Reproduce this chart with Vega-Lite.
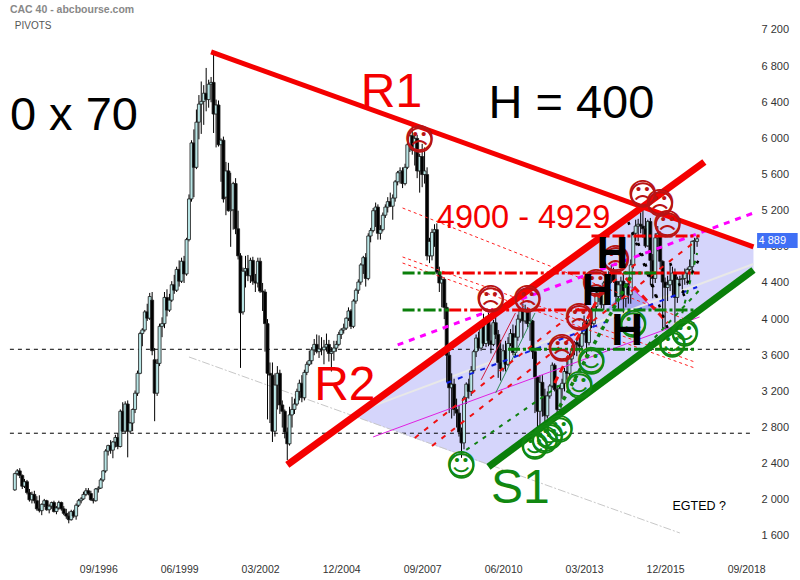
{"$schema":"https://vega.github.io/schema/vega-lite/v6.json","width":755,"height":558,"padding":{"left":0,"top":0,"right":45,"bottom":22},"autosize":"none","background":"white","config":{"view":{"stroke":null}},
"datasets":{
"channel":[{"t":"2005-05","v":2928,"v2":2928},{"t":"2010-01","v":4024,"v2":2375},{"t":"2015-01","v":5241,"v2":3598},{"t":"2018-12","v":4799,"v2":4544}],
"tri":[{"t":"2013-12","v":4101,"v2":4101},{"t":"2014-09","v":4378,"v2":4101},{"t":"2015-08","v":4101,"v2":4101}],
"lines":[
{"g":"level","s":"L1","t":"1993-09","v":3666},{"g":"level","s":"L1","t":"2018-12","v":3666},
{"g":"level","s":"L2","t":"1993-09","v":2737},{"g":"level","s":"L2","t":"2018-12","v":2737},
{"g":"grayline","s":"G1","t":"1999-10","v":3581},{"g":"grayline","s":"G1","t":"2016-06","v":1633},
{"g":"pale","s":"P1","t":"2005-12","v":3028},{"g":"pale","s":"P1","t":"2018-12","v":4610},
{"g":"thinred","s":"T1","t":"2007-01","v":5230},{"g":"thinred","s":"T1","t":"2016-12","v":3957},
{"g":"thinred","s":"T2","t":"2007-01","v":4688},{"g":"thinred","s":"T2","t":"2016-12","v":3526},
{"g":"thinred","s":"T3","t":"2007-01","v":4621},{"g":"thinred","s":"T3","t":"2016-12","v":3459},
{"g":"thinmag","s":"M1","t":"2006-01","v":2696},{"g":"thinmag","s":"M1","t":"2017-02","v":4024},
{"g":"thinmag","s":"M2","t":"2014-09","v":4378},{"g":"thinmag","s":"M2","t":"2015-08","v":4101},
{"g":"crimson","s":"C1","t":"2009-09","v":3327},{"g":"crimson","s":"C1","t":"2010-11","v":4068},
{"g":"thingreen","s":"TG1","t":"2010-03","v":3183},{"g":"thingreen","s":"TG1","t":"2011-07","v":4068},
{"g":"dashred","s":"A","t":"2007-06","v":2685},{"g":"dashred","s":"A","t":"2015-01","v":4632},
{"g":"dashred","s":"B","t":"2008-01","v":2596},{"g":"dashred","s":"B","t":"2017-01","v":4876},
{"g":"boldred","s":"BR1","t":"2012-03","v":3293},{"g":"boldred","s":"BR1","t":"2014-04","v":4621},
{"g":"boldred","s":"BR2","t":"2014-08","v":4455},{"g":"boldred","s":"BR2","t":"2016-01","v":3957},
{"g":"blue","s":"B1","t":"2008-07","v":3293},{"g":"blue","s":"B1","t":"2017-01","v":4356},
{"g":"dashgreen","s":"DG1","t":"2009-03","v":2552},{"g":"dashgreen","s":"DG1","t":"2012-07","v":3304},
{"g":"dashgreen","s":"DG2","t":"2016-06","v":3957},{"g":"dashgreen","s":"DG2","t":"2017-01","v":4732},
{"g":"dashgreen","s":"DG3","t":"2015-05","v":3714},{"g":"dashgreen","s":"DG3","t":"2017-02","v":4323},
{"g":"boldgreen","s":"BG1","t":"2012-05","v":3028},{"g":"boldgreen","s":"BG1","t":"2014-10","v":4466},
{"g":"dots","s":"D1","t":"2014-09","v":5075},{"g":"dots","s":"D1","t":"2016-01","v":3902},
{"g":"dots","s":"D2","t":"2015-01","v":4843},{"g":"dots","s":"D2","t":"2015-09","v":4212},
{"g":"dots","s":"D3","t":"2016-02","v":4621},{"g":"dots","s":"D3","t":"2016-09","v":4179},
{"g":"dots","s":"D4","t":"2016-07","v":4289},{"g":"dots","s":"D4","t":"2017-02","v":4677},
{"g":"magdots","s":"MD","t":"2006-11","v":3714},{"g":"magdots","s":"MD","t":"2018-12","v":5175},
{"g":"pivotred","s":"PR1","t":"2008-05","v":4511},{"g":"pivotred","s":"PR1","t":"2017-02","v":4511},
{"g":"pivotred","s":"PR2","t":"2008-08","v":4101},{"g":"pivotred","s":"PR2","t":"2013-06","v":4101},
{"g":"pivotred","s":"PR3","t":"2013-06","v":4920},{"g":"pivotred","s":"PR3","t":"2017-02","v":4920},
{"g":"pivotgreen","s":"PG1","t":"2007-01","v":4511},{"g":"pivotgreen","s":"PG1","t":"2008-05","v":4511},
{"g":"pivotgreen","s":"PG2","t":"2014-07","v":4511},{"g":"pivotgreen","s":"PG2","t":"2015-09","v":4511},
{"g":"pivotgreen","s":"PG3","t":"2007-01","v":4101},{"g":"pivotgreen","s":"PG3","t":"2008-08","v":4101},
{"g":"pivotgreen","s":"PG4","t":"2013-06","v":4101},{"g":"pivotgreen","s":"PG4","t":"2017-01","v":4101},
{"g":"pivotgreen","s":"PG5","t":"2010-08","v":3666},{"g":"pivotgreen","s":"PG5","t":"2017-01","v":3666},
{"g":"r1","s":"R1","t":"2000-07","v":6957},{"g":"r1","s":"R1","t":"2018-12","v":4799},
{"g":"r2","s":"R2","t":"2003-02","v":2386},{"g":"r2","s":"R2","t":"2017-04","v":5739},
{"g":"s1","s":"S1","t":"2009-12","v":2364},{"g":"s1","s":"S1","t":"2018-12","v":4544}],
"faces":[
{"k":"sad","g":"☹","t":"2007-08","v":5983},{"k":"sad","g":"☹","t":"2015-03","v":5374},{"k":"sad","g":"☹","t":"2015-10","v":5274},{"k":"sad","g":"☹","t":"2016-01","v":5042},{"k":"sad","g":"☹","t":"2014-04","v":4655},{"k":"sad","g":"☹","t":"2013-08","v":4389},{"k":"sad","g":"☹","t":"2013-01","v":4013},{"k":"sad","g":"☹","t":"2012-06","v":3670},{"k":"sad","g":"☹","t":"2010-01","v":4212},{"k":"sad","g":"☹","t":"2011-04","v":4212},
{"k":"happy","g":"☺","t":"2009-01","v":2375},{"k":"happy","g":"☺","t":"2011-07","v":2585},{"k":"happy","g":"☺","t":"2011-11","v":2651},{"k":"happy","g":"☺","t":"2012-01","v":2696},{"k":"happy","g":"☺","t":"2012-05","v":2773},{"k":"happy","g":"☺","t":"2013-01","v":3260},{"k":"happy","g":"☺","t":"2013-06","v":3526},{"k":"happy","g":"☺","t":"2014-11","v":3935},{"k":"happy","g":"☺","t":"2016-03","v":3714},{"k":"happy","g":"☺","t":"2016-08","v":3836}],
"notes":[
{"k":"black","label":"0 x 70","t":"1993-09","v":6093},{"k":"black","label":"H = 400","t":"2009-12","v":6226},
{"k":"red","label":"R1","t":"2005-08","v":6348},{"k":"red","label":"R2","t":"2004-01","v":3105},
{"k":"green","label":"S1","t":"2010-01","v":1965},
{"k":"boldh","label":"H","t":"2013-08","v":4566},{"k":"boldh","label":"H","t":"2013-02","v":4157},{"k":"boldh","label":"H","t":"2014-02","v":3714},
{"k":"mid","label":"4900 - 4929","t":"2008-03","v":5009},
{"k":"small","label":"EGTED ?","t":"2016-03","v":1888},
{"k":"head","label":"CAC 40 - abcbourse.com","t":"1993-09","v":7388},
{"k":"sub","label":"PIVOTS","t":"1993-11","v":7211}],
"last":[{"label":"4 889","t":"2019-02","t2":"2020-06","x0":"2019-01-15","v":4832,"top":4953,"bottom":4787}],
"candles":[
{"t":"1993-11","o":2110,"h":2300,"l":2100,"c":2290},{"t":"1993-12","o":2290,"h":2340,"l":2270,"c":2320},{"t":"1994-01","o":2320,"h":2350,"l":2240,"c":2270},{"t":"1994-02","o":2270,"h":2280,"l":2120,"c":2150},{"t":"1994-03","o":2150,"h":2230,"l":2130,"c":2200},{"t":"1994-04","o":2200,"h":2220,"l":2060,"c":2080},{"t":"1994-05","o":2080,"h":2120,"l":1980,"c":2000},{"t":"1994-06","o":2000,"h":2090,"l":1960,"c":2060},{"t":"1994-07","o":2060,"h":2100,"l":1960,"c":1990},{"t":"1994-08","o":1990,"h":2040,"l":1880,"c":1900},{"t":"1994-09","o":1900,"h":2050,"l":1860,"c":1880},{"t":"1994-10","o":1880,"h":1960,"l":1830,"c":1950},{"t":"1994-11","o":1950,"h":2010,"l":1920,"c":1990},{"t":"1994-12","o":1990,"h":2000,"l":1880,"c":1890},
{"t":"1995-01","o":1890,"h":1950,"l":1850,"c":1930},{"t":"1995-02","o":1930,"h":1980,"l":1900,"c":1970},{"t":"1995-03","o":1970,"h":1990,"l":1860,"c":1870},{"t":"1995-04","o":1870,"h":1930,"l":1840,"c":1910},{"t":"1995-05","o":1910,"h":1990,"l":1890,"c":1970},{"t":"1995-06","o":1970,"h":1980,"l":1880,"c":1900},{"t":"1995-07","o":1900,"h":1930,"l":1830,"c":1850},{"t":"1995-08","o":1850,"h":1900,"l":1790,"c":1820},{"t":"1995-09","o":1820,"h":1870,"l":1740,"c":1780},{"t":"1995-10","o":1780,"h":1890,"l":1770,"c":1870},{"t":"1995-11","o":1870,"h":1890,"l":1800,"c":1820},{"t":"1995-12","o":1820,"h":1960,"l":1780,"c":1940},
{"t":"1996-01","o":1940,"h":2010,"l":1920,"c":1990},{"t":"1996-02","o":1990,"h":2030,"l":1960,"c":2010},{"t":"1996-03","o":2010,"h":2090,"l":2000,"c":2060},{"t":"1996-04","o":2060,"h":2130,"l":2040,"c":2100},{"t":"1996-05","o":2100,"h":2130,"l":2050,"c":2070},{"t":"1996-06","o":2070,"h":2100,"l":1990,"c":2000},{"t":"1996-07","o":2000,"h":2020,"l":1960,"c":1990},{"t":"1996-08","o":1990,"h":2130,"l":1980,"c":2120},{"t":"1996-09","o":2120,"h":2150,"l":2080,"c":2130},{"t":"1996-10","o":2130,"h":2240,"l":2120,"c":2220},{"t":"1996-11","o":2220,"h":2330,"l":2200,"c":2320},{"t":"1996-12","o":2320,"h":2560,"l":2300,"c":2540},
{"t":"1997-01","o":2540,"h":2610,"l":2490,"c":2600},{"t":"1997-02","o":2600,"h":2660,"l":2510,"c":2550},{"t":"1997-03","o":2550,"h":2650,"l":2460,"c":2640},{"t":"1997-04","o":2640,"h":2720,"l":2580,"c":2690},{"t":"1997-05","o":2690,"h":2740,"l":2560,"c":2590},{"t":"1997-06","o":2590,"h":3000,"l":2580,"c":2980},{"t":"1997-07","o":2980,"h":3080,"l":2750,"c":2760},{"t":"1997-08","o":2760,"h":3090,"l":2740,"c":3060},{"t":"1997-09","o":3060,"h":3100,"l":2470,"c":2760},{"t":"1997-10","o":2760,"h":2860,"l":2740,"c":2850},{"t":"1997-11","o":2850,"h":3010,"l":2760,"c":3000},{"t":"1997-12","o":3000,"h":3210,"l":2960,"c":3180},
{"t":"1998-01","o":3180,"h":3430,"l":3150,"c":3400},{"t":"1998-02","o":3400,"h":3860,"l":3390,"c":3840},{"t":"1998-03","o":3840,"h":3900,"l":3700,"c":3880},{"t":"1998-04","o":3880,"h":4100,"l":3860,"c":4080},{"t":"1998-05","o":4080,"h":4170,"l":3980,"c":4010},{"t":"1998-06","o":4010,"h":4290,"l":3990,"c":4250},{"t":"1998-07","o":4210,"h":4300,"l":3600,"c":3650},{"t":"1998-08","o":3550,"h":3680,"l":2870,"c":3180},{"t":"1998-09","o":3180,"h":3560,"l":3150,"c":3510},{"t":"1998-10","o":3510,"h":3950,"l":3480,"c":3920},{"t":"1998-11","o":3920,"h":4020,"l":3800,"c":3950},{"t":"1998-12","o":3950,"h":4300,"l":3900,"c":4240},
{"t":"1999-01","o":4240,"h":4330,"l":4030,"c":4100},{"t":"1999-02","o":4100,"h":4280,"l":4080,"c":4210},{"t":"1999-03","o":4210,"h":4420,"l":4190,"c":4380},{"t":"1999-04","o":4380,"h":4490,"l":4280,"c":4320},{"t":"1999-05","o":4320,"h":4580,"l":4300,"c":4550},{"t":"1999-06","o":4550,"h":4650,"l":4360,"c":4420},{"t":"1999-07","o":4420,"h":4680,"l":4400,"c":4640},{"t":"1999-08","o":4640,"h":4700,"l":4400,"c":4500},{"t":"1999-09","o":4500,"h":4900,"l":4480,"c":4880},{"t":"1999-10","o":4880,"h":5380,"l":4860,"c":5330},{"t":"1999-11","o":5330,"h":5980,"l":5300,"c":5950},{"t":"1999-12","o":5950,"h":6100,"l":5350,"c":5680},
{"t":"2000-01","o":5680,"h":6320,"l":5660,"c":6180},{"t":"2000-02","o":6180,"h":6480,"l":5990,"c":6380},{"t":"2000-03","o":6380,"h":6630,"l":6050,"c":6410},{"t":"2000-04","o":6410,"h":6590,"l":6150,"c":6500},{"t":"2000-05","o":6500,"h":6780,"l":6300,"c":6430},{"t":"2000-06","o":6430,"h":6650,"l":6340,"c":6600},{"t":"2000-07","o":6600,"h":6680,"l":6400,"c":6620},{"t":"2000-08","o":6620,"h":6957,"l":6060,"c":6270},{"t":"2000-09","o":6270,"h":6430,"l":5900,"c":6370},{"t":"2000-10","o":6370,"h":6420,"l":5910,"c":5930},{"t":"2000-11","o":5930,"h":6000,"l":5520,"c":5980},{"t":"2000-12","o":5980,"h":6020,"l":5290,"c":5330},
{"t":"2001-01","o":5350,"h":5740,"l":5150,"c":5640},{"t":"2001-02","o":5640,"h":5730,"l":5190,"c":5200},{"t":"2001-03","o":5200,"h":5620,"l":4800,"c":5210},{"t":"2001-04","o":5210,"h":5520,"l":4990,"c":5500},{"t":"2001-05","o":5500,"h":5560,"l":4940,"c":5000},{"t":"2001-06","o":5000,"h":5200,"l":4660,"c":4700},{"t":"2001-07","o":4700,"h":4730,"l":3460,"c":4070},{"t":"2001-08","o":4080,"h":4570,"l":4050,"c":4530},{"t":"2001-09","o":4530,"h":4700,"l":4350,"c":4560},{"t":"2001-10","o":4560,"h":4710,"l":4420,"c":4480},{"t":"2001-11","o":4480,"h":4680,"l":4400,"c":4650},{"t":"2001-12","o":4650,"h":4690,"l":4380,"c":4420},
{"t":"2002-01","o":4420,"h":4500,"l":4300,"c":4400},{"t":"2002-02","o":4400,"h":4680,"l":4350,"c":4640},{"t":"2002-03","o":4640,"h":4680,"l":4290,"c":4310},{"t":"2002-04","o":4310,"h":4400,"l":4090,"c":4300},{"t":"2002-05","o":4300,"h":4330,"l":3640,"c":3950},{"t":"2002-06","o":3950,"h":4000,"l":2890,"c":3400},{"t":"2002-07","o":3400,"h":3520,"l":2850,"c":3380},{"t":"2002-08","o":3380,"h":3520,"l":2640,"c":2760},{"t":"2002-09","o":2760,"h":3400,"l":2700,"c":3270},{"t":"2002-10","o":3270,"h":3480,"l":3000,"c":3400},{"t":"2002-11","o":3400,"h":3440,"l":2950,"c":3050},{"t":"2002-12","o":3050,"h":3100,"l":2800,"c":2980},
{"t":"2003-01","o":2980,"h":3000,"l":2680,"c":2750},{"t":"2003-02","o":2750,"h":2800,"l":2440,"c":2620},{"t":"2003-03","o":2620,"h":3030,"l":2600,"c":2940},{"t":"2003-04","o":2940,"h":3140,"l":2800,"c":3000},{"t":"2003-05","o":3000,"h":3120,"l":2950,"c":3060},{"t":"2003-06","o":3060,"h":3230,"l":3040,"c":3200},{"t":"2003-07","o":3200,"h":3330,"l":3100,"c":3290},{"t":"2003-08","o":3290,"h":3380,"l":3080,"c":3130},{"t":"2003-09","o":3130,"h":3440,"l":3100,"c":3410},{"t":"2003-10","o":3410,"h":3530,"l":3380,"c":3500},{"t":"2003-11","o":3500,"h":3650,"l":3480,"c":3540},{"t":"2003-12","o":3540,"h":3690,"l":3500,"c":3660},
{"t":"2004-01","o":3660,"h":3780,"l":3600,"c":3720},{"t":"2004-02","o":3720,"h":3830,"l":3620,"c":3640},{"t":"2004-03","o":3640,"h":3820,"l":3570,"c":3670},{"t":"2004-04","o":3670,"h":3800,"l":3600,"c":3660},{"t":"2004-05","o":3660,"h":3770,"l":3500,"c":3690},{"t":"2004-06","o":3690,"h":3840,"l":3640,"c":3720},{"t":"2004-07","o":3720,"h":3770,"l":3530,"c":3620},{"t":"2004-08","o":3620,"h":3690,"l":3420,"c":3640},{"t":"2004-09","o":3640,"h":3760,"l":3540,"c":3680},{"t":"2004-10","o":3680,"h":3760,"l":3640,"c":3720},{"t":"2004-11","o":3720,"h":3860,"l":3700,"c":3830},{"t":"2004-12","o":3830,"h":3900,"l":3780,"c":3880},
{"t":"2005-01","o":3880,"h":3950,"l":3840,"c":3900},{"t":"2005-02","o":3900,"h":4020,"l":3880,"c":4010},{"t":"2005-03","o":4010,"h":4130,"l":3980,"c":4090},{"t":"2005-04","o":4090,"h":4110,"l":3890,"c":3920},{"t":"2005-05","o":3920,"h":4220,"l":3900,"c":4200},{"t":"2005-06","o":4200,"h":4340,"l":4170,"c":4320},{"t":"2005-07","o":4320,"h":4440,"l":4280,"c":4410},{"t":"2005-08","o":4410,"h":4620,"l":4380,"c":4600},{"t":"2005-09","o":4600,"h":4700,"l":4500,"c":4680},{"t":"2005-10","o":4680,"h":4730,"l":4360,"c":4450},{"t":"2005-11","o":4450,"h":4950,"l":4430,"c":4920},{"t":"2005-12","o":4920,"h":5010,"l":4850,"c":4980},
{"t":"2006-01","o":4980,"h":5230,"l":4960,"c":5200},{"t":"2006-02","o":5200,"h":5290,"l":5020,"c":5240},{"t":"2006-03","o":5240,"h":5270,"l":4880,"c":4950},{"t":"2006-04","o":4950,"h":5040,"l":4880,"c":4990},{"t":"2006-05","o":4990,"h":5180,"l":4970,"c":5150},{"t":"2006-06","o":5150,"h":5270,"l":5120,"c":5240},{"t":"2006-07","o":5240,"h":5350,"l":5180,"c":5300},{"t":"2006-08","o":5300,"h":5400,"l":5240,"c":5250},{"t":"2006-09","o":5250,"h":5380,"l":5100,"c":5340},{"t":"2006-10","o":5340,"h":5540,"l":5300,"c":5520},{"t":"2006-11","o":5520,"h":5640,"l":5480,"c":5620},{"t":"2006-12","o":5620,"h":5680,"l":5500,"c":5640},
{"t":"2007-01","o":5640,"h":5680,"l":5450,"c":5500},{"t":"2007-02","o":5500,"h":5720,"l":5480,"c":5680},{"t":"2007-03","o":5680,"h":5950,"l":5660,"c":5930},{"t":"2007-04","o":5930,"h":6080,"l":5850,"c":6030},{"t":"2007-05","o":6030,"h":6168,"l":5820,"c":5870},{"t":"2007-06","o":5870,"h":6040,"l":5700,"c":6000},{"t":"2007-07","o":6000,"h":6040,"l":5560,"c":5640},{"t":"2007-08","o":5640,"h":5830,"l":5400,"c":5800},{"t":"2007-09","o":5800,"h":5940,"l":5460,"c":5600},{"t":"2007-10","o":5600,"h":5900,"l":5500,"c":5640},{"t":"2007-11","o":5600,"h":5680,"l":4650,"c":4700},{"t":"2007-12","o":4700,"h":4900,"l":4620,"c":4860},
{"t":"2008-01","o":4700,"h":5000,"l":4650,"c":4960},{"t":"2008-02","o":4960,"h":5050,"l":4800,"c":4990},{"t":"2008-03","o":4990,"h":5060,"l":4500,"c":4520},{"t":"2008-04","o":4520,"h":4580,"l":4300,"c":4400},{"t":"2008-05","o":4400,"h":4480,"l":4130,"c":4440},{"t":"2008-06","o":4440,"h":4460,"l":4000,"c":4130},{"t":"2008-07","o":4130,"h":4180,"l":3300,"c":3600},{"t":"2008-08","o":3600,"h":3640,"l":2960,"c":3240},{"t":"2008-09","o":3240,"h":3400,"l":2900,"c":3280},{"t":"2008-10","o":3280,"h":3340,"l":2930,"c":3000},{"t":"2008-11","o":3000,"h":3120,"l":2800,"c":2960},{"t":"2008-12","o":2960,"h":3050,"l":2700,"c":2750},
{"t":"2009-01","o":2750,"h":2800,"l":2465,"c":2630},{"t":"2009-02","o":2630,"h":3150,"l":2560,"c":3127},{"t":"2009-03","o":3130,"h":3300,"l":3060,"c":3280},{"t":"2009-04","o":3280,"h":3340,"l":3120,"c":3200},{"t":"2009-05","o":3200,"h":3480,"l":3150,"c":3430},{"t":"2009-06","o":3430,"h":3660,"l":3400,"c":3640},{"t":"2009-07","o":3640,"h":3830,"l":3580,"c":3790},{"t":"2009-08","o":3790,"h":3860,"l":3650,"c":3680},{"t":"2009-09","o":3680,"h":3960,"l":3650,"c":3930},{"t":"2009-10","o":3930,"h":4060,"l":3700,"c":3730},{"t":"2009-11","o":3730,"h":4030,"l":3690,"c":3980},{"t":"2009-12","o":3980,"h":4080,"l":3700,"c":3760},
{"t":"2010-01","o":3760,"h":3940,"l":3620,"c":3720},{"t":"2010-02","o":3720,"h":3990,"l":3700,"c":3960},{"t":"2010-03","o":3960,"h":4090,"l":3780,"c":3830},{"t":"2010-04","o":3830,"h":3880,"l":3350,"c":3520},{"t":"2010-05","o":3520,"h":3770,"l":3320,"c":3450},{"t":"2010-06","o":3450,"h":3720,"l":3420,"c":3650},{"t":"2010-07","o":3650,"h":3760,"l":3420,"c":3500},{"t":"2010-08","o":3500,"h":3800,"l":3480,"c":3730},{"t":"2010-09","o":3730,"h":3890,"l":3700,"c":3840},{"t":"2010-10","o":3840,"h":3940,"l":3600,"c":3630},{"t":"2010-11","o":3630,"h":3930,"l":3580,"c":3800},{"t":"2010-12","o":3800,"h":4050,"l":3760,"c":4000},
{"t":"2011-01","o":4000,"h":4120,"l":3960,"c":4090},{"t":"2011-02","o":4090,"h":4170,"l":3790,"c":3980},{"t":"2011-03","o":3980,"h":4160,"l":3950,"c":4110},{"t":"2011-04","o":4110,"h":4130,"l":3910,"c":3950},{"t":"2011-05","o":3950,"h":4090,"l":3760,"c":3980},{"t":"2011-06","o":3980,"h":3990,"l":3560,"c":3640},{"t":"2011-07","o":3640,"h":3660,"l":2960,"c":3360},{"t":"2011-08","o":3360,"h":3370,"l":2700,"c":2980},{"t":"2011-09","o":2980,"h":3380,"l":2800,"c":3300},{"t":"2011-10","o":3300,"h":3380,"l":2920,"c":3150},{"t":"2011-11","o":3150,"h":3230,"l":2820,"c":2930},{"t":"2011-12","o":2930,"h":3200,"l":2900,"c":3150},
{"t":"2012-01","o":3150,"h":3280,"l":3120,"c":3260},{"t":"2012-02","o":3260,"h":3520,"l":3240,"c":3490},{"t":"2012-03","o":3490,"h":3510,"l":3200,"c":3220},{"t":"2012-04","o":3220,"h":3270,"l":2950,"c":3000},{"t":"2012-05","o":3000,"h":3270,"l":2960,"c":3230},{"t":"2012-06","o":3230,"h":3340,"l":3120,"c":3290},{"t":"2012-07","o":3290,"h":3460,"l":3200,"c":3420},{"t":"2012-08","o":3420,"h":3590,"l":3330,"c":3400},{"t":"2012-09","o":3400,"h":3620,"l":3370,"c":3560},{"t":"2012-10","o":3560,"h":3710,"l":3480,"c":3650},{"t":"2012-11","o":3650,"h":3760,"l":3600,"c":3740},{"t":"2012-12","o":3740,"h":3780,"l":3590,"c":3720},
{"t":"2013-01","o":3720,"h":3820,"l":3630,"c":3700},{"t":"2013-02","o":3700,"h":3860,"l":3660,"c":3840},{"t":"2013-03","o":3840,"h":4040,"l":3820,"c":3960},{"t":"2013-04","o":3960,"h":4000,"l":3600,"c":3740},{"t":"2013-05","o":3740,"h":4000,"l":3710,"c":3980},{"t":"2013-06","o":3980,"h":4130,"l":3900,"c":3950},{"t":"2013-07","o":3950,"h":4170,"l":3920,"c":4140},{"t":"2013-08","o":4140,"h":4320,"l":4090,"c":4290},{"t":"2013-09","o":4290,"h":4340,"l":4190,"c":4320},{"t":"2013-10","o":4320,"h":4340,"l":4120,"c":4160},{"t":"2013-11","o":4160,"h":4420,"l":4100,"c":4400},{"t":"2013-12","o":4400,"h":4470,"l":4330,"c":4390},
{"t":"2014-01","o":4390,"h":4530,"l":4340,"c":4490},{"t":"2014-02","o":4490,"h":4600,"l":4400,"c":4520},{"t":"2014-03","o":4520,"h":4570,"l":4400,"c":4420},{"t":"2014-04","o":4420,"h":4510,"l":4170,"c":4250},{"t":"2014-05","o":4250,"h":4420,"l":4100,"c":4380},{"t":"2014-06","o":4380,"h":4470,"l":4210,"c":4420},{"t":"2014-07","o":4420,"h":4490,"l":4070,"c":4230},{"t":"2014-08","o":4230,"h":4400,"l":4130,"c":4390},{"t":"2014-09","o":4390,"h":4460,"l":4170,"c":4270},{"t":"2014-10","o":4270,"h":4660,"l":4170,"c":4600},{"t":"2014-11","o":4600,"h":4970,"l":4560,"c":4950},{"t":"2014-12","o":4950,"h":5100,"l":4860,"c":5030},
{"t":"2015-01","o":5030,"h":5110,"l":4860,"c":5050},{"t":"2015-02","o":5050,"h":5180,"l":4950,"c":5030},{"t":"2015-03","o":5030,"h":5280,"l":4900,"c":5000},{"t":"2015-04","o":5000,"h":5120,"l":4790,"c":4810},{"t":"2015-05","o":4810,"h":5100,"l":4800,"c":5080},{"t":"2015-06","o":5080,"h":5120,"l":4380,"c":4650},{"t":"2015-07","o":4650,"h":4720,"l":4230,"c":4450},{"t":"2015-08","o":4450,"h":4950,"l":4400,"c":4900},{"t":"2015-09","o":4900,"h":5030,"l":4750,"c":4950},{"t":"2015-10","o":4950,"h":4970,"l":4560,"c":4640},{"t":"2015-11","o":4640,"h":4650,"l":3900,"c":4410},{"t":"2015-12","o":4410,"h":4460,"l":3890,"c":4350},
{"t":"2016-01","o":4350,"h":4480,"l":4200,"c":4380},{"t":"2016-02","o":4380,"h":4600,"l":4310,"c":4430},{"t":"2016-03","o":4430,"h":4580,"l":4250,"c":4510},{"t":"2016-04","o":4510,"h":4560,"l":3960,"c":4240},{"t":"2016-05","o":4240,"h":4470,"l":4180,"c":4440},{"t":"2016-06","o":4440,"h":4480,"l":4380,"c":4440},{"t":"2016-07","o":4440,"h":4500,"l":4330,"c":4450},{"t":"2016-08","o":4450,"h":4560,"l":4380,"c":4510},{"t":"2016-09","o":4510,"h":4570,"l":4380,"c":4550},{"t":"2016-10","o":4550,"h":4660,"l":4400,"c":4580},{"t":"2016-11","o":4580,"h":4870,"l":4530,"c":4860},{"t":"2016-12","o":4860,"h":4900,"l":4720,"c":4870},{"t":"2017-01","o":4860,"h":4920,"l":4800,"c":4889}]},
"encoding":{
"x":{"field":"t","type":"temporal","title":null,"scale":{"domain":["1993-05-01","2018-12-20"],"nice":false,"padding":0},"axis":{"values":[{"year":1996,"month":9,"date":1},{"year":1999,"month":6,"date":1},{"year":2002,"month":3,"date":1},{"year":2004,"month":12,"date":1},{"year":2007,"month":9,"date":1},{"year":2010,"month":6,"date":1},{"year":2013,"month":3,"date":1},{"year":2015,"month":12,"date":1},{"year":2018,"month":9,"date":1}],"format":"%m/%Y","grid":false,"ticks":false,"domain":false,"labelFont":"Liberation Sans","labelFontSize":10.5,"labelColor":"#333333","labelPadding":6,"labelOverlap":false,"labelFlush":false}},
"y":{"field":"v","type":"quantitative","title":null,"scale":{"domain":[1356,7532],"nice":false,"zero":false},"axis":{"orient":"right","values":[1600,2000,2400,2800,3200,3600,4000,4400,4800,5200,5600,6000,6400,6800,7200],"labelExpr":"replace(format(datum.value, ','), ',', ' ')","grid":false,"ticks":false,"domain":false,"labelFont":"Liberation Sans","labelFontSize":11,"labelColor":"#333333","labelPadding":6}}},
"layer":[
{"data":{"name":"channel"},"mark":{"type":"area","color":"#d5d5fb","stroke":null},"encoding":{"y2":{"field":"v2"}}},
{"data":{"name":"tri"},"mark":{"type":"area","color":"#a9a9f2"},"encoding":{"y2":{"field":"v2"}}},
{"data":{"name":"lines"},"transform":[{"filter":"datum.g=='level'"}],"mark":{"type":"line","color":"#000","strokeWidth":1,"strokeDash":[4,4]},"encoding":{"detail":{"field":"s"}}},
{"data":{"name":"lines"},"transform":[{"filter":"datum.g=='grayline'"}],"mark":{"type":"line","color":"#c8c8c8","strokeWidth":1,"strokeDash":[8,2,2,2]},"encoding":{"detail":{"field":"s"}}},
{"data":{"name":"lines"},"transform":[{"filter":"datum.g=='pale'"}],"mark":{"type":"line","color":"#e8e8e8","strokeWidth":2},"encoding":{"detail":{"field":"s"}}},
{"data":{"name":"candles"},"mark":{"type":"rule","color":"#000","strokeWidth":1},"encoding":{"y":{"field":"l","type":"quantitative","title":null,"scale":{"domain":[1356,7532],"nice":false,"zero":false},"axis":{"orient":"right","values":[1600,2000,2400,2800,3200,3600,4000,4400,4800,5200,5600,6000,6400,6800,7200],"labelExpr":"replace(format(datum.value, ','), ',', ' ')","grid":false,"ticks":false,"domain":false,"labelFont":"Liberation Sans","labelFontSize":11,"labelColor":"#333333","labelPadding":6}},"y2":{"field":"h"}}},
{"data":{"name":"candles"},"mark":{"type":"bar","size":3,"stroke":"#1a1a1a","strokeWidth":0.8},"encoding":{"y":{"field":"o","type":"quantitative","title":null,"scale":{"domain":[1356,7532],"nice":false,"zero":false},"axis":{"orient":"right","values":[1600,2000,2400,2800,3200,3600,4000,4400,4800,5200,5600,6000,6400,6800,7200],"labelExpr":"replace(format(datum.value, ','), ',', ' ')","grid":false,"ticks":false,"domain":false,"labelFont":"Liberation Sans","labelFontSize":11,"labelColor":"#333333","labelPadding":6}},"y2":{"field":"c"},"fill":{"condition":{"test":"datum.c>=datum.o","value":"#b9e6e6"},"value":"#000000"}}},
{"data":{"name":"lines"},"transform":[{"filter":"datum.g=='thinred'"}],"mark":{"type":"line","color":"#ff2020","strokeWidth":1,"strokeDash":[3,3]},"encoding":{"detail":{"field":"s"}}},
{"data":{"name":"lines"},"transform":[{"filter":"datum.g=='thinmag'"}],"mark":{"type":"line","color":"#e020e0","strokeWidth":1},"encoding":{"detail":{"field":"s"}}},
{"data":{"name":"lines"},"transform":[{"filter":"datum.g=='crimson'"}],"mark":{"type":"line","color":"#d02040","strokeWidth":1},"encoding":{"detail":{"field":"s"}}},
{"data":{"name":"lines"},"transform":[{"filter":"datum.g=='thingreen'"}],"mark":{"type":"line","color":"#2e8b57","strokeWidth":1},"encoding":{"detail":{"field":"s"}}},
{"data":{"name":"lines"},"transform":[{"filter":"datum.g=='dashred'"}],"mark":{"type":"line","color":"#f01010","strokeWidth":2,"strokeDash":[5,7]},"encoding":{"detail":{"field":"s"}}},
{"data":{"name":"lines"},"transform":[{"filter":"datum.g=='boldred'"}],"mark":{"type":"line","color":"#f01010","strokeWidth":3,"strokeDash":[7,5]},"encoding":{"detail":{"field":"s"}}},
{"data":{"name":"lines"},"transform":[{"filter":"datum.g=='blue'"}],"mark":{"type":"line","color":"#1020e0","strokeWidth":2,"strokeDash":[5,7]},"encoding":{"detail":{"field":"s"}}},
{"data":{"name":"lines"},"transform":[{"filter":"datum.g=='dashgreen'"}],"mark":{"type":"line","color":"#108010","strokeWidth":2,"strokeDash":[4,6]},"encoding":{"detail":{"field":"s"}}},
{"data":{"name":"lines"},"transform":[{"filter":"datum.g=='boldgreen'"}],"mark":{"type":"line","color":"#108010","strokeWidth":3.5,"strokeDash":[4,4]},"encoding":{"detail":{"field":"s"}}},
{"data":{"name":"lines"},"transform":[{"filter":"datum.g=='dots'"}],"mark":{"type":"line","color":"#000","strokeWidth":2.5,"strokeDash":[3,8]},"encoding":{"detail":{"field":"s"}}},
{"data":{"name":"lines"},"transform":[{"filter":"datum.g=='magdots'"}],"mark":{"type":"line","color":"#ff00ff","strokeWidth":3,"strokeDash":[6,6]},"encoding":{"detail":{"field":"s"}}},
{"data":{"name":"lines"},"transform":[{"filter":"datum.g=='pivotred'"}],"mark":{"type":"line","color":"#f00000","strokeWidth":3,"strokeDash":[12,3,3,3]},"encoding":{"detail":{"field":"s"}}},
{"data":{"name":"lines"},"transform":[{"filter":"datum.g=='pivotgreen'"}],"mark":{"type":"line","color":"#0a7f0a","strokeWidth":3,"strokeDash":[12,3,3,3]},"encoding":{"detail":{"field":"s"}}},
{"data":{"name":"lines"},"transform":[{"filter":"datum.g=='r1'"}],"mark":{"type":"line","color":"#f40000","strokeWidth":5},"encoding":{"detail":{"field":"s"}}},
{"data":{"name":"lines"},"transform":[{"filter":"datum.g=='r2'"}],"mark":{"type":"line","color":"#f40000","strokeWidth":7},"encoding":{"detail":{"field":"s"}}},
{"data":{"name":"lines"},"transform":[{"filter":"datum.g=='s1'"}],"mark":{"type":"line","color":"#0a7f0a","strokeWidth":7},"encoding":{"detail":{"field":"s"}}},
{"data":{"name":"faces"},"transform":[{"filter":"datum.k=='sad'"}],"mark":{"type":"point","shape":"circle","size":560,"filled":false,"stroke":"#b81414","strokeWidth":2,"opacity":1}},
{"data":{"name":"faces"},"transform":[{"filter":"datum.k=='sad'"}],"mark":{"type":"text","font":"DejaVu Sans","fontSize":30,"color":"#b81414","align":"center","baseline":"middle"},"encoding":{"text":{"field":"g"}}},
{"data":{"name":"faces"},"transform":[{"filter":"datum.k=='happy'"}],"mark":{"type":"point","shape":"circle","size":560,"filled":false,"stroke":"#118811","strokeWidth":2,"opacity":1}},
{"data":{"name":"faces"},"transform":[{"filter":"datum.k=='happy'"}],"mark":{"type":"text","font":"DejaVu Sans","fontSize":30,"color":"#118811","align":"center","baseline":"middle"},"encoding":{"text":{"field":"g"}}},
{"data":{"name":"notes"},"transform":[{"filter":"datum.k=='black'"}],"mark":{"type":"text","font":"Liberation Sans","fontSize":47,"color":"#000","align":"left","baseline":"alphabetic"},"encoding":{"text":{"field":"label"}}},
{"data":{"name":"notes"},"transform":[{"filter":"datum.k=='boldh'"}],"mark":{"type":"text","font":"Liberation Sans","fontSize":44,"fontWeight":"bold","color":"#000","align":"left","baseline":"alphabetic"},"encoding":{"text":{"field":"label"}}},
{"data":{"name":"notes"},"transform":[{"filter":"datum.k=='red'"}],"mark":{"type":"text","font":"Liberation Sans","fontSize":48,"color":"#f40000","align":"left","baseline":"alphabetic"},"encoding":{"text":{"field":"label"}}},
{"data":{"name":"notes"},"transform":[{"filter":"datum.k=='green'"}],"mark":{"type":"text","font":"Liberation Sans","fontSize":48,"color":"#118811","align":"left","baseline":"alphabetic"},"encoding":{"text":{"field":"label"}}},
{"data":{"name":"notes"},"transform":[{"filter":"datum.k=='mid'"}],"mark":{"type":"text","font":"Liberation Sans","fontSize":32.5,"color":"#f40000","align":"left","baseline":"alphabetic"},"encoding":{"text":{"field":"label"}}},
{"data":{"name":"notes"},"transform":[{"filter":"datum.k=='small'"}],"mark":{"type":"text","font":"Liberation Sans","fontSize":12.5,"color":"#000","align":"left","baseline":"alphabetic"},"encoding":{"text":{"field":"label"}}},
{"data":{"name":"notes"},"transform":[{"filter":"datum.k=='head'"}],"mark":{"type":"text","font":"Liberation Sans","fontSize":10.5,"fontWeight":"bold","color":"#888888","align":"left","baseline":"alphabetic"},"encoding":{"text":{"field":"label"}}},
{"data":{"name":"notes"},"transform":[{"filter":"datum.k=='sub'"}],"mark":{"type":"text","font":"Liberation Sans","fontSize":10,"color":"#555555","align":"left","baseline":"alphabetic"},"encoding":{"text":{"field":"label"}}},
{"data":{"name":"last"},"mark":{"type":"rect","color":"#3f6ff5"},"encoding":{"x":{"field":"x0","type":"temporal","title":null,"scale":{"domain":["1993-05-01","2018-12-20"],"nice":false,"padding":0},"axis":{"values":[{"year":1996,"month":9,"date":1},{"year":1999,"month":6,"date":1},{"year":2002,"month":3,"date":1},{"year":2004,"month":12,"date":1},{"year":2007,"month":9,"date":1},{"year":2010,"month":6,"date":1},{"year":2013,"month":3,"date":1},{"year":2015,"month":12,"date":1},{"year":2018,"month":9,"date":1}],"format":"%m/%Y","grid":false,"ticks":false,"domain":false,"labelFont":"Liberation Sans","labelFontSize":10.5,"labelColor":"#333333","labelPadding":6,"labelOverlap":false,"labelFlush":false}},"x2":{"field":"t2"},"y":{"field":"top","type":"quantitative","title":null,"scale":{"domain":[1356,7532],"nice":false,"zero":false},"axis":{"orient":"right","values":[1600,2000,2400,2800,3200,3600,4000,4400,4800,5200,5600,6000,6400,6800,7200],"labelExpr":"replace(format(datum.value, ','), ',', ' ')","grid":false,"ticks":false,"domain":false,"labelFont":"Liberation Sans","labelFontSize":11,"labelColor":"#333333","labelPadding":6}},"y2":{"field":"bottom"}}},
{"data":{"name":"last"},"mark":{"type":"text","font":"Liberation Sans","fontSize":11,"color":"#ffffff","align":"left","baseline":"alphabetic"},"encoding":{"text":{"field":"label"}}}
]}
